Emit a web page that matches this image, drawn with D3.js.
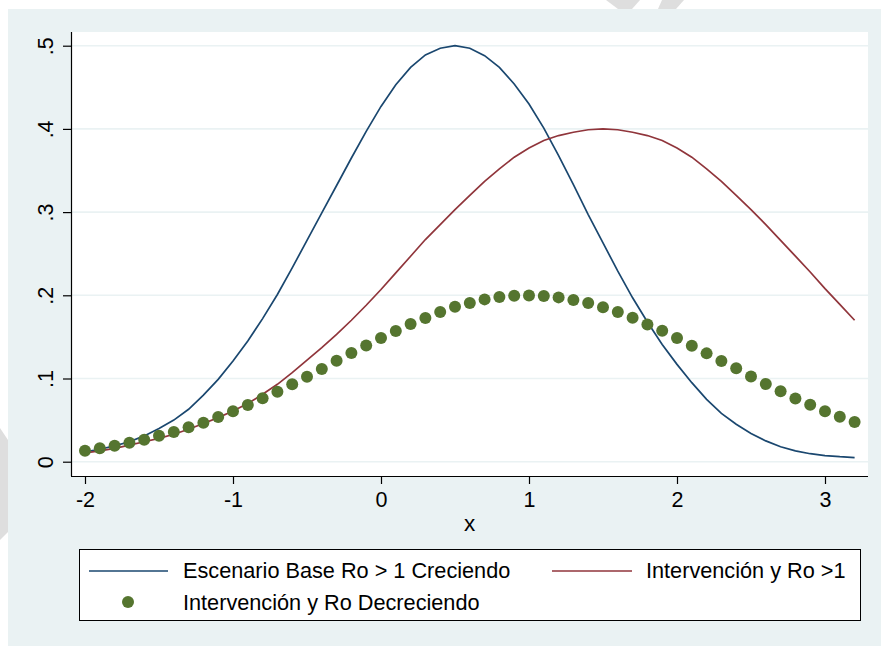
<!DOCTYPE html>
<html>
<head>
<meta charset="utf-8">
<script src="https://cdn.jsdelivr.net/npm/d3@7"></script>
<style>
  html, body { margin: 0; padding: 0; background: #ffffff; }
  svg { display: block; font-family: "Liberation Sans", Arial, Helvetica, sans-serif; }
</style>
</head>
<body>
<div id="chart"></div>
<script>
(function () {
  "use strict";

  // x grid (step 0.1) and the three series
  var X_VALS = [-2.0, -1.9, -1.8, -1.7, -1.6, -1.5, -1.4, -1.3, -1.2, -1.1,
                -1.0, -0.9, -0.8, -0.7, -0.6, -0.5, -0.4, -0.3, -0.2, -0.1,
                 0.0,  0.1,  0.2,  0.3,  0.4,  0.5,  0.6,  0.7,  0.8,  0.9,
                 1.0,  1.1,  1.2,  1.3,  1.4,  1.5,  1.6,  1.7,  1.8,  1.9,
                 2.0,  2.1,  2.2,  2.3,  2.4,  2.5,  2.6,  2.7,  2.8,  2.9,
                 3.0,  3.1,  3.2];

  var BASE = [0.012, 0.015, 0.019, 0.024, 0.031, 0.040, 0.050, 0.063, 0.080, 0.099,
              0.121, 0.145, 0.172, 0.201, 0.233, 0.266, 0.299, 0.332, 0.365, 0.397,
              0.427, 0.453, 0.474, 0.489, 0.497, 0.500, 0.497, 0.488, 0.474, 0.454,
              0.430, 0.401, 0.368, 0.333, 0.297, 0.263, 0.229, 0.197, 0.168, 0.141,
              0.117, 0.095, 0.075, 0.058, 0.045, 0.034, 0.025, 0.018, 0.013, 0.0096,
              0.0074, 0.006, 0.005];

  var INTERV = [0.0105, 0.013, 0.016, 0.020, 0.024, 0.028, 0.033, 0.039, 0.046, 0.053,
                0.061, 0.070, 0.081, 0.093, 0.107, 0.122, 0.137, 0.153, 0.170, 0.188,
                0.207, 0.227, 0.247, 0.267, 0.285, 0.303, 0.320, 0.337, 0.352, 0.366,
                0.377, 0.386, 0.392, 0.396, 0.399, 0.400, 0.399, 0.396, 0.392, 0.386,
                0.377, 0.366, 0.352, 0.337, 0.320, 0.303, 0.285, 0.266, 0.247, 0.228,
                0.208, 0.189, 0.170];

  var DECREC = [0.0132, 0.0161, 0.0192, 0.0229, 0.0265, 0.0313, 0.0357, 0.0414, 0.0469, 0.0538,
                0.0606, 0.0682, 0.0763, 0.0842, 0.0931, 0.1022, 0.1114, 0.1214, 0.1306, 0.1398,
                0.1487, 0.1571, 0.1655, 0.1727, 0.1799, 0.1863, 0.1907, 0.1951, 0.1980, 0.1995,
                0.1999, 0.1991, 0.1975, 0.1943, 0.1907, 0.1855, 0.1799, 0.1731, 0.1650, 0.1575,
                0.1487, 0.1394, 0.1302, 0.1211, 0.1122, 0.1025, 0.0934, 0.0846, 0.0761, 0.0685,
                0.0605, 0.0541, 0.0477];

  var X_TICKS = [-2, -1, 0, 1, 2, 3];
  var X_TICK_LABELS = ["-2", "-1", "0", "1", "2", "3"];
  var Y_TICKS = [0, 0.1, 0.2, 0.3, 0.4, 0.5];
  var Y_TICK_LABELS = ["0", ".1", ".2", ".3", ".4", ".5"];
  var LEGEND_LABELS = ["Escenario Base Ro > 1 Creciendo", "Intervención y Ro >1",
                       "Intervención y Ro Decreciendo"];

  // Stata s2color palette
  var COL = { navy: "#1a476f", maroon: "#90353b", green: "#55752f",
              region: "#eaf2f3", grid: "#eaf2f3", ink: "#000000" };

  var W = 881, H = 646;
  var P = { l: 71, r: 868, t: 32, b: 476 };   // plot region
  var FS = 21.5;

  var svg = d3.select("#chart").append("svg")
    .attr("width", W).attr("height", H).attr("viewBox", "0 0 " + W + " " + H);

  // faint page watermark peeking outside the graph region
  var wm = svg.append("g").attr("fill", "#dedede");
  wm.append("path").attr("d", "M606,0L640,0L632,9L618,9Z");
  wm.append("path").attr("d", "M662,0L684,0L676,9L658,9Z");
  wm.append("path").attr("d", "M0,428L8,440L8,532L0,540Z");

  // graph region + plot region
  svg.append("rect").attr("x", 8).attr("y", 9).attr("width", W - 8).attr("height", H - 9)
    .attr("fill", COL.region);
  svg.append("rect").attr("x", P.l).attr("y", P.t)
    .attr("width", P.r - P.l).attr("height", P.b - P.t).attr("fill", "#ffffff");

  var x = d3.scaleLinear().domain([-2, 3]).range([85, 825]);
  var y = d3.scaleLinear().domain([0, 0.5]).range([461.7, 45.7]);

  // gridlines
  svg.append("g").selectAll("line").data(Y_TICKS).enter().append("line")
    .attr("x1", P.l).attr("x2", P.r)
    .attr("y1", function (d) { return y(d); }).attr("y2", function (d) { return y(d); })
    .attr("stroke", COL.grid).attr("stroke-width", 1.6);

  // axes
  var ax = svg.append("g").attr("transform", "translate(0," + P.b + ")")
    .call(d3.axisBottom(x).tickValues(X_TICKS).tickSize(8).tickPadding(7)
      .tickFormat(function (d, i) { return X_TICK_LABELS[i]; }));
  ax.select(".domain").attr("d", "M" + P.l + ",0.5H" + P.r);
  var ay = svg.append("g").attr("transform", "translate(" + P.l + ",0)")
    .call(d3.axisLeft(y).tickValues(Y_TICKS).tickSize(8)
      .tickFormat(function (d, i) { return Y_TICK_LABELS[i]; }));
  ay.select(".domain").attr("d", "M0.5," + P.t + "V" + P.b);
  [ax, ay].forEach(function (a) {
    a.selectAll("path,line").attr("stroke", COL.ink).attr("stroke-width", 1.2);
    a.selectAll("text").attr("fill", COL.ink)
      .style("font-family", "'Liberation Sans', Arial, sans-serif")
      .style("font-size", FS + "px");
  });
  ax.selectAll("text").attr("dy", null).attr("y", 31);
  // rotated y labels, read bottom-to-top like Stata
  ay.selectAll("text")
    .attr("x", null).attr("dy", null).attr("y", null)
    .attr("text-anchor", "middle")
    .attr("transform", "translate(-18,0) rotate(-90)");

  svg.append("text").attr("x", (P.l + P.r) / 2).attr("y", 531)
    .attr("text-anchor", "middle").style("font-size", (FS + 1) + "px").text("x");

  // series
  var pts = function (vals) { return X_VALS.map(function (xv, i) { return [xv, vals[i]]; }); };
  var line = d3.line().x(function (d) { return x(d[0]); }).y(function (d) { return y(d[1]); });

  svg.append("path").datum(pts(BASE)).attr("d", line)
    .attr("fill", "none").attr("stroke", COL.navy).attr("stroke-width", 1.7);
  svg.append("path").datum(pts(INTERV)).attr("d", line)
    .attr("fill", "none").attr("stroke", COL.maroon).attr("stroke-width", 1.7);
  svg.append("g").selectAll("circle").data(pts(DECREC)).enter().append("circle")
    .attr("cx", function (d) { return x(d[0]); })
    .attr("cy", function (d) { return y(d[1]); })
    .attr("r", 6).attr("fill", COL.green);

  // legend
  var lg = svg.append("g");
  lg.append("rect").attr("x", 79.5).attr("y", 549.5).attr("width", 781).attr("height", 71)
    .attr("fill", "#ffffff").attr("stroke", COL.ink).attr("stroke-width", 1);
  lg.append("line").attr("x1", 89).attr("x2", 168).attr("y1", 571).attr("y2", 571)
    .attr("stroke", COL.navy).attr("stroke-width", 1.7);
  lg.append("line").attr("x1", 552).attr("x2", 632).attr("y1", 571).attr("y2", 571)
    .attr("stroke", COL.maroon).attr("stroke-width", 1.7);
  lg.append("circle").attr("cx", 128).attr("cy", 602).attr("r", 6).attr("fill", COL.green);
  [[183, 577.5, 0], [646, 577.5, 1], [183, 609.5, 2]].forEach(function (p) {
    lg.append("text").attr("x", p[0]).attr("y", p[1])
      .style("font-size", "21.7px").attr("fill", COL.ink).text(LEGEND_LABELS[p[2]]);
  });
})();
</script>
</body>
</html>
